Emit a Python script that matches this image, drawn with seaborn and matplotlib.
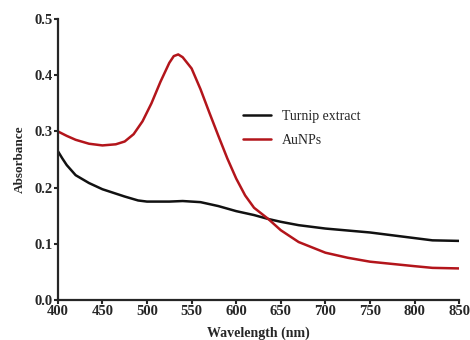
import numpy as np
import pandas as pd
import matplotlib
matplotlib.use("Agg")
import matplotlib.pyplot as plt
import seaborn as sns

# UV-Vis spectra
wl_turnip = [400, 405, 410, 420, 435, 450, 475, 490, 500, 525, 540, 560, 580, 600, 620, 636, 650, 670, 700, 750, 800, 820, 850]
abs_turnip = [0.265, 0.252, 0.24, 0.222, 0.208, 0.197, 0.184, 0.177, 0.175, 0.175, 0.176, 0.174, 0.167, 0.158, 0.151, 0.144, 0.139, 0.133, 0.127, 0.120, 0.110, 0.106, 0.105]

wl_aunp = [400, 410, 420, 435, 450, 465, 475, 485, 495, 505, 515, 525, 530, 535, 540, 550, 560, 570, 580, 590, 600, 610, 620, 636, 650, 670, 700, 725, 750, 800, 820, 850]
abs_aunp = [0.300, 0.292, 0.285, 0.278, 0.275, 0.277, 0.282, 0.295, 0.318, 0.350, 0.388, 0.422, 0.434, 0.437, 0.432, 0.412, 0.375, 0.333, 0.292, 0.252, 0.216, 0.186, 0.164, 0.144, 0.124, 0.103, 0.084, 0.075, 0.068, 0.060, 0.057, 0.056]

df = pd.concat([
    pd.DataFrame({"Wavelength": wl_turnip, "Absorbance": abs_turnip, "Sample": "Turnip extract"}),
    pd.DataFrame({"Wavelength": wl_aunp, "Absorbance": abs_aunp, "Sample": "AuNPs"}),
])

sns.set_style("ticks")
plt.rcParams["font.family"] = ["Liberation Serif", "DejaVu Serif"]

fig = plt.figure(figsize=(4.7, 3.4), dpi=100)
ax = fig.add_axes([0.123, 0.118, 0.854, 0.826])

sns.lineplot(data=df, x="Wavelength", y="Absorbance", hue="Sample",
             palette={"Turnip extract": "#111111", "AuNPs": "#b3151b"},
             linewidth=1.8, ax=ax)

ax.set_xlim(400, 850)
ax.set_ylim(0, 0.5)
ax.set_xticks(np.arange(400, 851, 50))
ax.set_yticks(np.arange(0, 0.51, 0.1))
ax.set_yticklabels([f"{v:.1f}" for v in np.arange(0, 0.51, 0.1)])
ax.tick_params(axis="both", labelsize=10.5, width=1.5, length=3, pad=1)
for lbl in ax.get_xticklabels() + ax.get_yticklabels():
    lbl.set_fontweight("bold")
for s in ["left", "bottom"]:
    ax.spines[s].set_linewidth(1.6)
sns.despine(ax=ax)

ax.set_xlabel("Wavelength (nm)", fontsize=10, fontweight="bold", labelpad=6)
ax.set_ylabel("Absorbance", fontsize=9.5, fontweight="bold", labelpad=6)

ax.legend(title=None, frameon=False, fontsize=10, loc="upper left",
          bbox_to_anchor=(0.43, 0.72), handlelength=2.0, labelspacing=0.8)

fig.savefig("out.png", dpi=100)
